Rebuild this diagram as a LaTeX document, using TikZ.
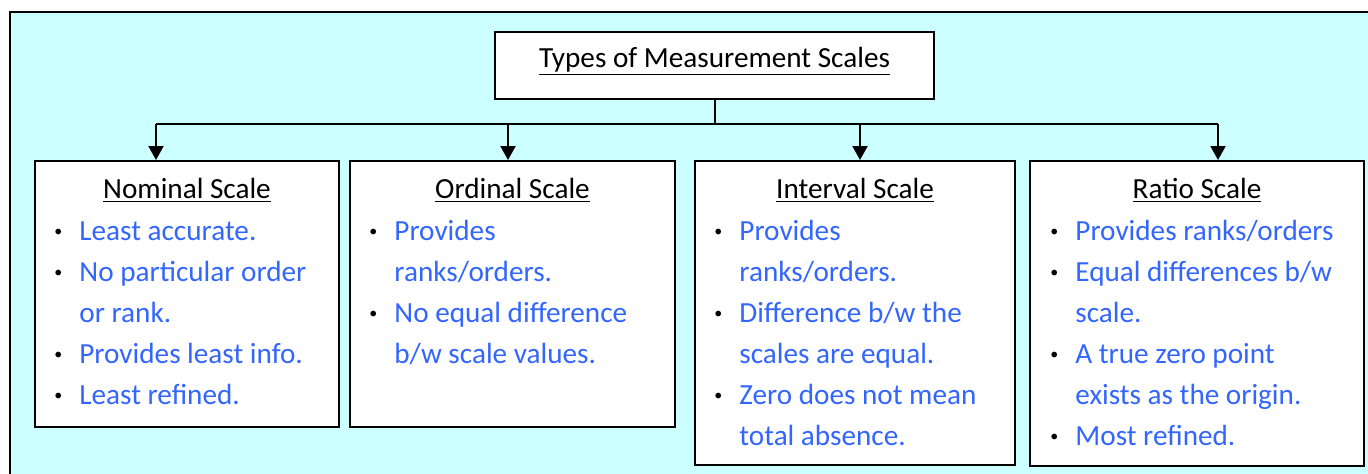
\documentclass[tikz,border=0pt]{standalone}
\usepackage{fontspec}
\setmainfont{Carlito}
\usetikzlibrary{positioning, calc, arrows.meta}

\definecolor{bgcyan}{RGB}{204,255,255}
\definecolor{itemblue}{RGB}{51,102,255}
\newcommand{\scalefont}{\fontsize{14.6pt}{20.5pt}\selectfont}
\newcommand{\itm}[1]{\strut\makebox[0pt][r]{\raisebox{1.6pt}{\fontsize{8pt}{8pt}\selectfont\textcolor{black}{\textbullet}}\hspace{8.5pt}}#1}

\begin{document}
\begin{tikzpicture}[x=0.5pt, y=-0.5pt,
    scalebox/.style={draw, line width=1pt, fill=white, anchor=north west, inner sep=0pt},
    head/.style={font=\scalefont, anchor=base, inner sep=0pt},
    body/.style={font=\scalefont, text=itemblue, align=left, anchor=north west, inner sep=0pt},
    link/.style={line width=1pt},
    down/.style={line width=1pt, -{Triangle[length=7pt, width=7.5pt]}}]

    % Sfondo
    \useasboundingbox (0,0) rectangle (1368,473);
    \clip (0,0) rectangle (1368,473);
    \draw[fill=bgcyan, line width=1.2pt] (10,12) rectangle (1400,500);

    % Titolo
    \node[scalebox, minimum width=219.5pt, minimum height=33.5pt] (title) at (494,31) {};
    \node[head] (titletext) at (title.north |- 0,67) {\underline{Types of Measurement Scales}};

    % Riquadri delle scale
    \node[scalebox, minimum width=152pt, minimum height=133pt] (nominal) at (34,160) {};
    \node[scalebox, minimum width=162.5pt, minimum height=133pt] (ordinal) at (349,160) {};
    \node[scalebox, minimum width=160pt, minimum height=152pt] (interval) at (694,160) {};
    \node[scalebox, minimum width=167pt, minimum height=152.5pt] (ratio) at (1029,160) {};

    % Intestazioni
    \node[head] (nominalhead) at (nominal.north |- 0,198) {\underline{Nominal Scale}};
    \node[head] (ordinalhead) at (ordinal.north |- 0,198) {\underline{Ordinal Scale}};
    \node[head] (intervalhead) at (interval.north |- 0,198) {\underline{Interval Scale}};
    \node[head] (ratiohead) at (ratio.north |- 0,198) {\underline{Ratio Scale}};

    % Elenchi
    \node[body] (nominalbody) at (79,211) {\itm{Least accurate.}\\
        \itm{No particular order}\\ or rank.\\
        \itm{Provides least info.}\\
        \itm{Least refined.}};
    \node[body] (ordinalbody) at (394,211) {\itm{Provides}\\ ranks/orders.\\
        \itm{No equal difference}\\ b/w scale values.};
    \node[body] (intervalbody) at (739,211) {\itm{Provides}\\ ranks/orders.\\
        \itm{Difference b/w the}\\ scales are equal.\\
        \itm{Zero does not mean}\\ total absence.};
    \node[body] (ratiobody) at (1075,211) {\itm{Provides ranks/orders}\\
        \itm{Equal differences b/w}\\ scale.\\
        \itm{A true zero point}\\ exists as the origin.\\
        \itm{Most refined.}};

    % Linee di connessione
    \coordinate (split) at (title.south |- 0,124);
    \coordinate (nt) at (156,124);
    \coordinate (ot) at (508,124);
    \coordinate (it) at (860,124);
    \coordinate (rt) at (1218,124);
    \draw[link] (title.south) -- (split);
    \draw[link] (nt) -- (rt);
    \draw[down] (nt) -- (nt |- nominal.north);
    \draw[down] (ot) -- (ot |- ordinal.north);
    \draw[down] (it) -- (it |- interval.north);
    \draw[down] (rt) -- (rt |- ratio.north);
\end{tikzpicture}
\end{document}
